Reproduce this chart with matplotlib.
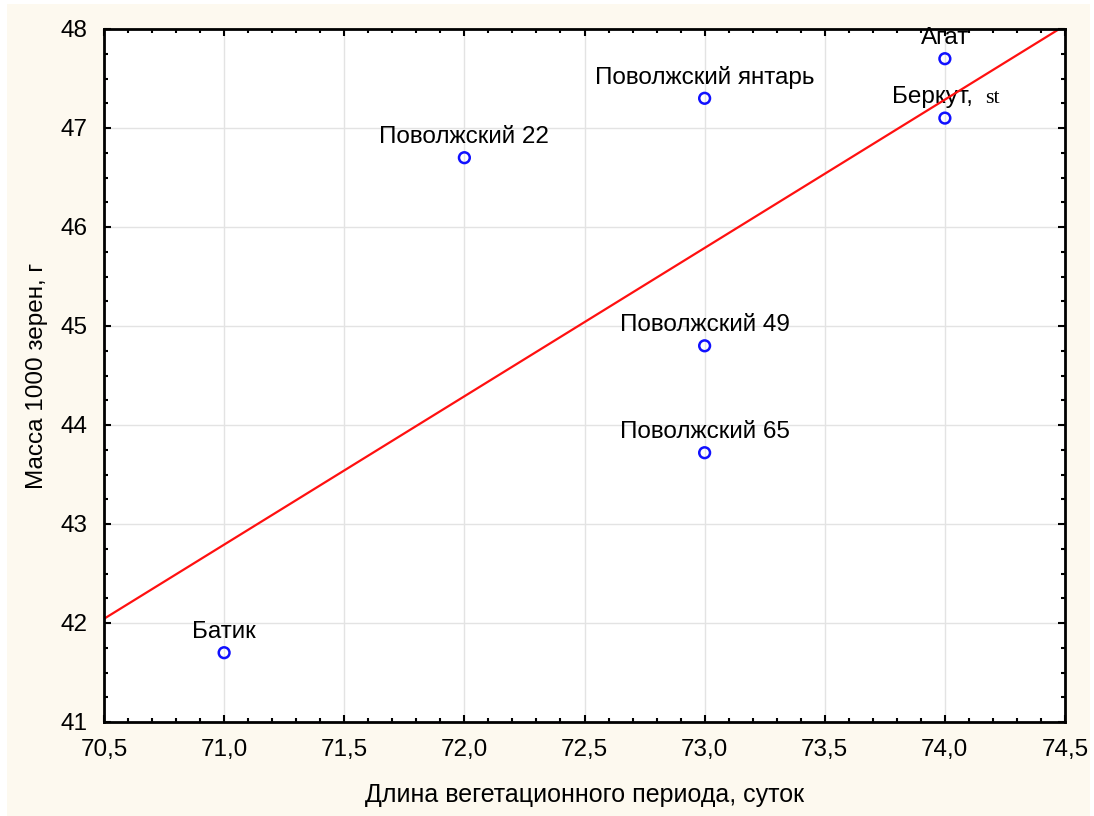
import matplotlib
matplotlib.use('Agg')
import matplotlib.pyplot as plt
import numpy as np
from matplotlib.patches import Rectangle
from matplotlib.ticker import MultipleLocator, FuncFormatter

# Data: growing period length (days) vs 1000-grain mass (g)
names = ['Батик', 'Поволжский 22', 'Поволжский янтарь', 'Поволжский 49',
         'Поволжский 65', 'Агат', 'Беркут,']
period = [71.0, 72.0, 73.0, 73.0, 73.0, 74.0, 74.0]
mass = [41.7, 46.7, 47.3, 44.8, 43.72, 47.7, 47.1]

plt.rcParams['font.family'] = ['Liberation Sans', 'DejaVu Sans']
FS = 17.5

fig = plt.figure(figsize=(10.94, 8.16), dpi=100, facecolor='white')
fig.patches.append(Rectangle((7 / 1094, 0), 1083 / 1094, 812 / 816,
                             transform=fig.transFigure, facecolor='#fdf9ef',
                             edgecolor='none', zorder=-10))
ax = fig.add_axes([104 / 1094, 1 - 722 / 816, 961 / 1094, 693 / 816])
ax.set_facecolor('white')

# regression line
k, b = np.polyfit(period, mass, 1)
xl = np.array([70.5, 74.5])
ax.plot(xl, k * xl + b, color='#ff1010', lw=1.6, zorder=3)

ax.scatter(period, mass, s=60, facecolors='none', edgecolors='#1010ff',
           linewidths=1.8, zorder=4)

for nm, x, y in zip(names, period, mass):
    t = ax.annotate(nm, (x, y), xytext=(0, 7), textcoords='offset points',
                    ha='center', va='bottom', fontsize=FS, zorder=2,
                    annotation_clip=False)
    if nm == 'Беркут,':
        t.set_position((-9, 7))
        ax.annotate('st', (x, y), xytext=(29, 7.5), textcoords='offset points',
                    ha='left', va='bottom', fontsize=16, family='Liberation Serif')

ax.set_xlim(70.5, 74.5)
ax.set_ylim(41, 48)
ax.xaxis.set_major_locator(MultipleLocator(0.5))
ax.xaxis.set_minor_locator(MultipleLocator(0.1))
ax.yaxis.set_major_locator(MultipleLocator(1))
ax.yaxis.set_minor_locator(MultipleLocator(0.25))
ax.xaxis.set_major_formatter(FuncFormatter(lambda v, p: f'{v:.1f}'.replace('.', ',')))
ax.yaxis.set_major_formatter(FuncFormatter(lambda v, p: f'{v:.0f}'))

ax.grid(True, which='major', color='#e3e3e3', lw=1, zorder=0)
ax.set_axisbelow(True)
ax.tick_params(which='both', direction='in', top=True, right=True, width=1.5,
               labelsize=FS, colors='black')
ax.tick_params(which='major', length=5, pad=12)
ax.tick_params(which='minor', length=3)
for s in ax.spines.values():
    s.set_linewidth(2)
    s.set_zorder(5)

ax.set_xlabel('Длина вегетационного периода, суток', fontsize=FS + 0.5, labelpad=16)
ax.set_ylabel('Масса 1000 зерен, г', fontsize=FS, labelpad=9)

fig.savefig('out.png', dpi=100, facecolor=fig.get_facecolor())
